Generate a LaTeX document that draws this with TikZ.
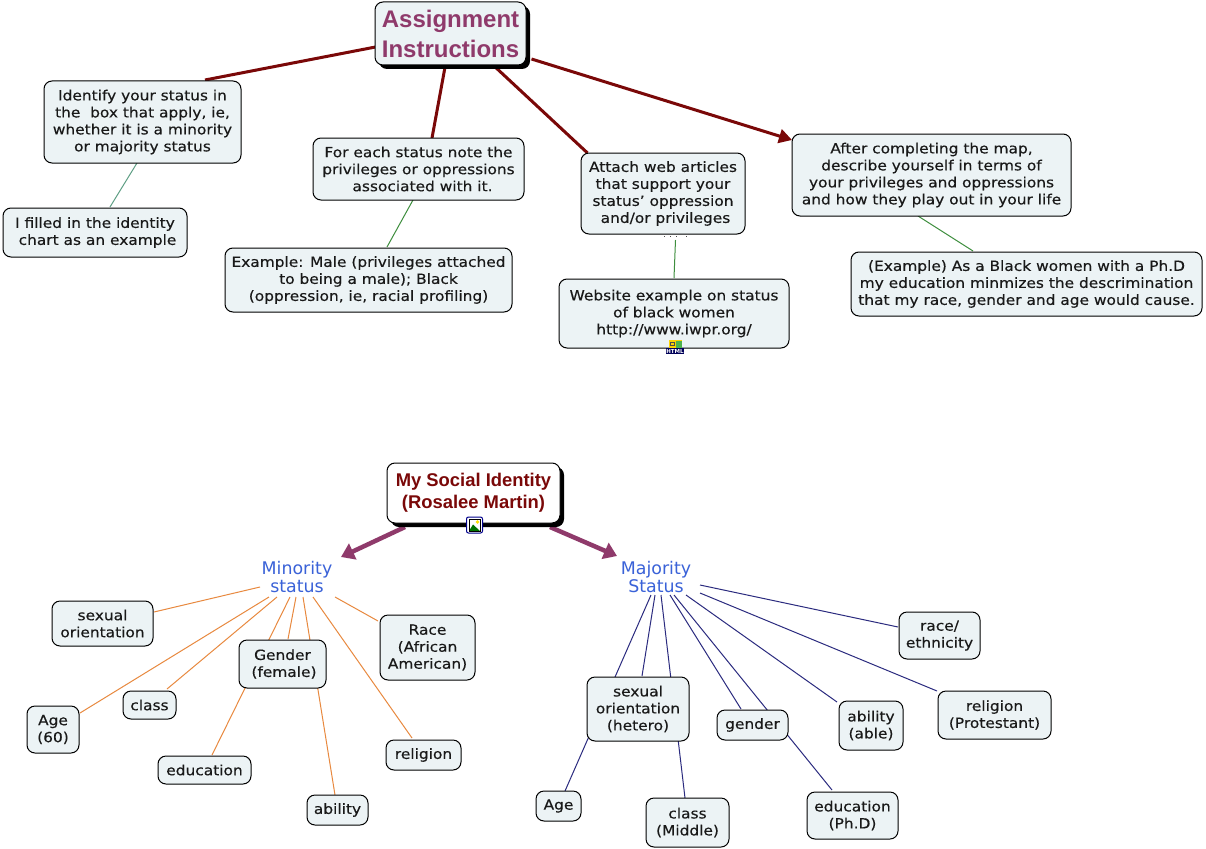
\documentclass[tikz,border=0pt]{standalone}
\usepackage{fontspec}
\setmainfont[FakeStretch=1.10,FakeBold=0.35]{DejaVu Sans}
\newfontfamily\labelfont{DejaVu Sans}
\newfontfamily\headfont{Liberation Sans}
\usetikzlibrary{arrows.meta,shadows,backgrounds}
\definecolor{boxfill}{HTML}{ECF3F5}
\definecolor{darkred}{HTML}{7A0808}
\definecolor{plum}{HTML}{8F3A6B}
\definecolor{linkblue}{HTML}{3A62D8}
\definecolor{orangeln}{HTML}{E8893F}
\definecolor{navyln}{HTML}{2B2B7F}
\definecolor{greenln}{HTML}{3E8E3E}
\definecolor{tealln}{HTML}{5F9F85}
\tikzset{
  x=1pt,y=-1pt,
  boxed/.style={draw=black,line width=1pt,fill=boxfill,rounded corners=8pt,inner sep=0pt,align=center,text=black!90,
    font=\fontsize{14}{17}\selectfont},
  headbox/.style={boxed,text=plum,font=\headfont\bfseries\fontsize{24}{30}\selectfont,
    drop shadow={shadow xshift=4pt,shadow yshift=-4pt,fill=black,opacity=1}},
  idbox/.style={boxed,fill=white,text=darkred,font=\headfont\bfseries\fontsize{18.4}{22}\selectfont,
    drop shadow={shadow xshift=4pt,shadow yshift=-4pt,fill=black,opacity=1}},
  bluelabel/.style={text=linkblue,inner sep=0pt,align=center,font=\labelfont\fontsize{17.4}{18.5}\selectfont},
  thickred/.style={draw=darkred,line width=3pt},
  thickarrow/.style={thickred,-{Triangle[length=13pt,width=14pt]}},
  plumarrow/.style={draw=plum,line width=4.5pt,-{Triangle[length=13pt,width=17pt]}},
  greenlink/.style={draw=greenln,line width=1pt},
  teallink/.style={draw=tealln,line width=1pt},
  orangelink/.style={draw=orangeln,line width=1pt},
  navylink/.style={draw=navyln,line width=1pt},
}
% style, name, x0, y0, x1, y1, text
\newcommand{\bx}[7]{%
  \pgfmathsetmacro{\bw}{#5-#3}\pgfmathsetmacro{\bh}{#6-#4}%
  \pgfmathsetmacro{\bcx}{(#3+#5)/2}\pgfmathsetmacro{\bcy}{(#4+#6)/2}%
  \node[#1,minimum width=\bw pt,minimum height=\bh pt] (#2) at (\bcx,\bcy) {#7};}
% style, node a, dx, dy, node b, dx, dy
\newcommand{\lnk}[7]{\draw[#1] ([shift={(#3,#4)}]#2.center) -- ([shift={(#6,#7)}]#5.center);}
\newcommand{\lead}[1]{\hspace*{#1pt}}
\begin{document}
\begin{tikzpicture}
\useasboundingbox (0,0) rectangle (1206,848);
\begin{pgfonlayer}{background}
\fill[white] (0,0) rectangle (1206,848);
\end{pgfonlayer}
% upper map
\bx{headbox}{ai}{375}{2}{526}{65}{Assignment\\Instructions}
\bx{boxed}{identify}{44}{81}{241}{163}{Identify your status in\\the\ \ box that apply, ie,\\whether it is a minority\\or majority status}
\bx{boxed}{filled}{3}{208}{187}{257}{I filled in the identity\\\lead{5}chart as an example}
\bx{boxed}{foreach}{313}{138}{524}{200}{For each status note the\\privileges or oppressions\\\lead{8}associated with it.}
\bx{boxed}{exone}{225}{248}{512}{312}{Example: Male (privileges attached\\to being a male); Black\\(oppression, ie, racial profiling)}
\bx{boxed}{attach}{581}{153}{745}{234}{Attach web articles\\that support your\\status' oppression\\\lead{5}and/or privileges}
\bx{boxed}{website}{559}{279}{789}{348}{Website example on status\\of black women\\http://www.iwpr.org/}
\bx{boxed}{after}{792}{134}{1071}{216}{After completing the map,\\describe yourself in terms of\\your privileges and oppressions\\and how they play out in your life}
\bx{boxed}{extwo}{851}{252}{1202}{316}{(Example) As a Black women with a Ph.D\\my education minmizes the descrimination\\that my race, gender and age would cause.}
% lower map
\bx{idbox}{social}{387}{463}{560}{523}{My Social Identity\\(Rosalee Martin)}
\node[bluelabel] (minor) at (297,577) {Minority\\status};
\node[bluelabel] (major) at (656,577) {Majority\\Status};
\bx{boxed}{so}{52}{601}{153}{646}{sexual\\orientation}
\bx{boxed}{age}{27}{706}{79}{753}{Age\\(60)}
\bx{boxed}{cls}{123}{691}{176}{719}{class}
\bx{boxed}{gen}{239}{640}{326}{688}{Gender\\\lead{3}(female)}
\bx{boxed}{edu}{158}{756}{251}{784}{education}
\bx{boxed}{abi}{307}{795}{368}{825}{ability}
\bx{boxed}{rel}{386}{740}{461}{770}{religion}
\bx{boxed}{race}{380}{615}{475}{680}{Race\\(African\\American)}
\bx{boxed}{mso}{587}{677}{689}{741}{sexual\\orientation\\(hetero)}
\bx{boxed}{mgen}{717}{710}{788}{740}{gender}
\bx{boxed}{mabi}{839}{701}{903}{750}{ability\\(able)}
\bx{boxed}{mrel}{938}{691}{1051}{739}{religion\\(Protestant)}
\bx{boxed}{mrace}{899}{612}{980}{659}{race/\\ethnicity}
\bx{boxed}{mage}{536}{791}{581}{821}{Age}
\bx{boxed}{mcls}{646}{798}{729}{847}{class\\(Middle)}
\bx{boxed}{medu}{807}{792}{898}{839}{education\\(Ph.D)}
\begin{pgfonlayer}{background}
\lnk{thickred}{ai}{-75}{13.5}{identify}{62.5}{-42}
\lnk{thickred}{ai}{-5}{31}{foreach}{13.5}{-31}
\lnk{thickred}{ai}{42}{31}{attach}{-75.5}{-40.5}
\lnk{thickarrow}{ai}{81}{25.5}{after}{-139.5}{-35}
\lnk{teallink}{identify}{-5.5}{41}{filled}{15}{-25.5}
\lnk{greenlink}{foreach}{-5.5}{31}{exone}{18.5}{-33}
\lnk{greenlink}{attach}{12.5}{46.5}{website}{0}{-35.5}
\lnk{greenlink}{after}{-13.5}{41}{extwo}{-53.5}{-33}
\lnk{plumarrow}{social}{-68.5}{34}{minor}{44}{-20}
\lnk{plumarrow}{social}{76.5}{34}{major}{-39}{-21}
\lnk{orangelink}{minor}{-37}{10}{so}{51.5}{-11.5}
\lnk{orangelink}{minor}{-28}{20}{age}{27}{-16.5}
\lnk{orangelink}{minor}{-20}{20}{cls}{17.5}{-16}
\lnk{orangelink}{minor}{-7}{20}{edu}{7.5}{-15}
\lnk{orangelink}{minor}{-1}{20}{gen}{5.5}{-25}
\lnk{orangelink}{minor}{6}{20}{abi}{-2.5}{-15}
\lnk{orangelink}{minor}{16}{20}{rel}{-11.5}{-17}
\lnk{orangelink}{minor}{38}{20}{race}{-49.5}{-26.5}
\lnk{navylink}{major}{-5}{18}{mage}{6.5}{-15}
\lnk{navylink}{major}{-1}{18}{mso}{4}{-33}
\lnk{navylink}{major}{5}{18}{mcls}{-2.5}{-24.5}
\lnk{navylink}{major}{14}{18}{mgen}{-11.5}{-16}
\lnk{navylink}{major}{18}{18}{medu}{-20.5}{-25.5}
\lnk{navylink}{major}{30}{18}{mabi}{-34}{-23.5}
\lnk{navylink}{major}{44}{16}{mrel}{-57.5}{-24}
\lnk{navylink}{major}{44}{8}{mrace}{-41.5}{-8.5}
\end{pgfonlayer}
% four small marks under the attach box
\foreach \mx in {664,670,676,686} \fill[black!70] (\mx-.4,235.6) rectangle (\mx+.4,236.4);
% image icon on the social identity box
\draw[draw=blue!55!black,fill=white,line width=1pt,rounded corners=2pt] (466.5,517) rectangle (482.5,533);
\fill[green!45!black] (469,531) -- (473,524.5) -- (480,531) -- cycle;
\fill[yellow!85!orange] (477.5,522) circle (1.8);
\draw[black,line width=.6pt] (469,519.5) rectangle (480,531);
% html icon under the website box
\fill[yellow!70!orange] (669,340) rectangle (682,350);
\fill[green!40!gray] (675.5,341) rectangle (682,349);
\draw[black!70,line width=.6pt] (670.5,342.5) rectangle (674.5,345);
\node[fill=blue!35!black,text=white,inner sep=0pt,minimum width=15pt,minimum height=6pt,font=\labelfont\bfseries\fontsize{5.5}{6}\selectfont] (htmlmark) at (675,351) {HTML};
\end{tikzpicture}
\end{document}
